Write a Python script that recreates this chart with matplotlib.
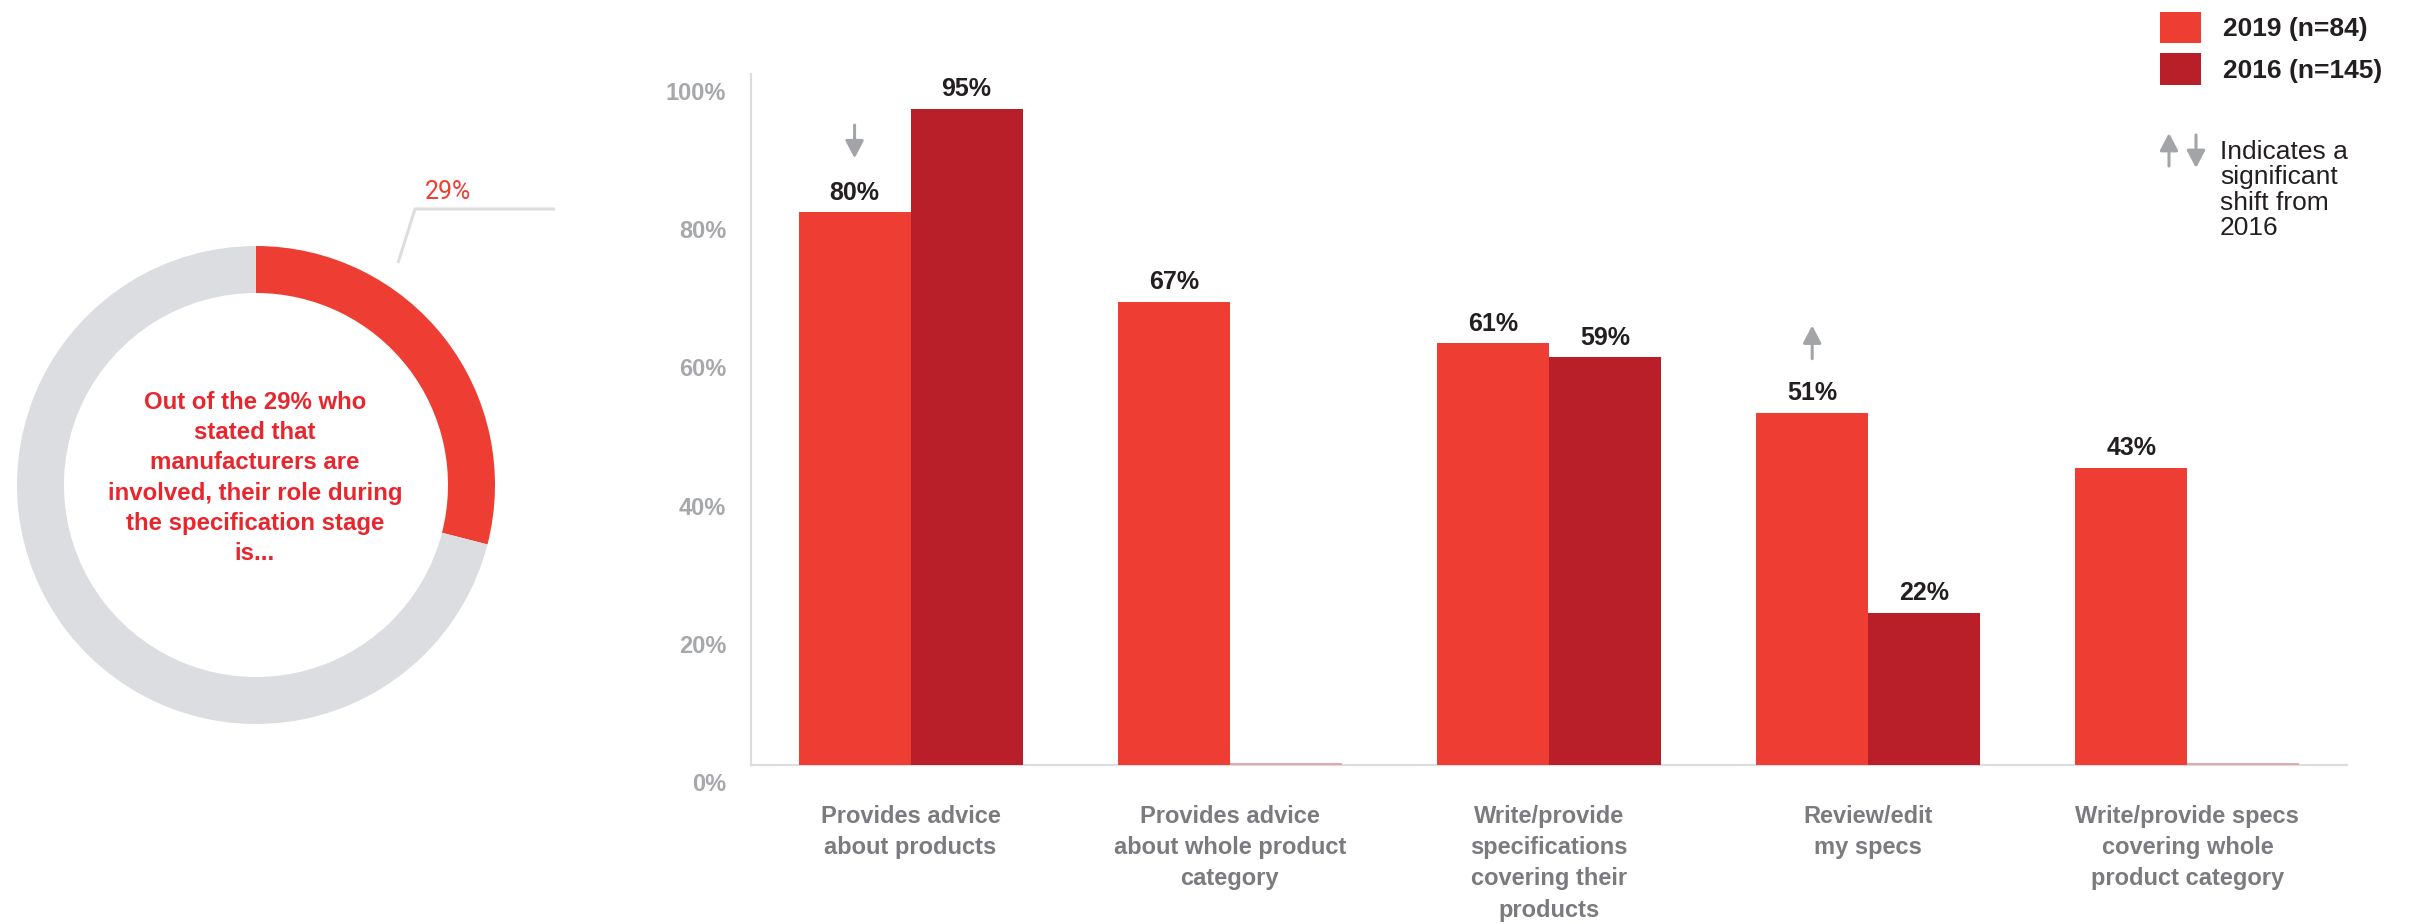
import numpy as np
import matplotlib
matplotlib.use('Agg')
import matplotlib.pyplot as plt
import matplotlib.transforms as mtransforms
from matplotlib.patches import Patch, FancyArrowPatch

# ── data ──────────────────────────────────────────────────────────────────────
categories = [
    'Provides advice\nabout products',
    'Provides advice\nabout whole product\ncategory',
    'Write/provide\nspecifications\ncovering their\nproducts',
    'Review/edit\nmy specs',
    'Write/provide specs\ncovering whole\nproduct category',
]
vals_2019 = [80, 67, 61, 51, 43]
vals_2016 = [95, 0, 59, 22, 0]
shift = [-1, 0, 0, 1, 0]          # significant shift vs 2016: -1 down, +1 up
series_labels = ['2019 (n=84)', '2016 (n=145)']
yticks = [0, 20, 40, 60, 80, 100]
donut_share = [29, 71]            # manufacturers involved / not involved

RED = '#ee3d33'
DARK_RED = '#b91f28'
RING_GRAY = '#dcdde0'
TICK_GRAY = '#a7a8ab'
LABEL_GRAY = '#7a7b7f'
ARROW_GRAY = '#a3a4a8'
INK = '#231f20'
TEXT_RED = '#e8262d'

plt.rcParams['font.family'] = ['Liberation Sans', 'DejaVu Sans']

W, H = 2419, 924
fig = plt.figure(figsize=(W / 100, H / 100), dpi=100)

# ── donut ─────────────────────────────────────────────────────────────────────
axd = fig.add_axes([0, 0, 600 / W, 1])
axd.pie(donut_share, colors=[RED, RING_GRAY], startangle=90, counterclock=False,
        radius=239, center=(256, H - 485),
        wedgeprops=dict(width=47, linewidth=0))
axd.set_xlim(0, 600)
axd.set_ylim(0, H)
axd.set_aspect('equal')
axd.axis('off')

# leader line + callout
axd.plot([398, 415, 555], [H - 263, H - 209, H - 209], color=RING_GRAY,
         lw=2.2, solid_capstyle='butt')
axd.text(448, H - 192, f'{donut_share[0]}%', color=RED, fontsize=18,
         family=['Roboto', 'Liberation Sans'], fontweight='normal',
         ha='center', va='center')

axd.text(255, H - 478,
         f'Out of the {donut_share[0]}% who\nstated that\nmanufacturers are\n'
         'involved, their role during\nthe specification stage\nis...',
         color=TEXT_RED, fontsize=17.3, fontweight='bold',
         ha='center', va='center', linespacing=1.39)

# ── grouped bars ──────────────────────────────────────────────────────────────
ax = fig.add_axes([751 / W, (H - 765) / H, (2347 - 751) / W, (765 - 74) / H])
x = np.arange(len(categories))
bw = 0.351
off = bw / 2

ax.bar(x - off, vals_2019, bw, color=RED, linewidth=0, zorder=3,
       label=series_labels[0])
ax.bar(x + off, vals_2016, bw, color=DARK_RED, linewidth=0, zorder=3,
       label=series_labels[1])

# no 2016 figure for these categories: thin stub on the baseline
for xi, v in zip(x, vals_2016):
    if v == 0:
        ax.hlines(0.15, xi, xi + bw, color='#e39aa0', lw=1.2, zorder=4)

for xi, v in zip(x, vals_2019):
    ax.annotate(f'{v}%', (xi - off, v), xytext=(0, 5.5), textcoords='offset points',
                ha='center', va='bottom', fontsize=18, fontweight='bold',
                color=INK, annotation_clip=False)
for xi, v in zip(x, vals_2016):
    if v > 0:
        ax.annotate(f'{v}%', (xi + off, v), xytext=(0, 5.5),
                    textcoords='offset points', ha='center', va='bottom',
                    fontsize=18, fontweight='bold', color=INK,
                    annotation_clip=False)

arrow_kw = dict(arrowstyle='-|>,head_length=1.05,head_width=0.55',
                color=ARROW_GRAY, lw=2.2, shrinkA=0, shrinkB=0,
                mutation_scale=10)
for xi, v, s in zip(x, vals_2019, shift):
    if s == 0:
        continue
    near, far = v + 7.8, v + 12.6
    tail, tip = (far, near) if s < 0 else (near, far)
    ax.annotate('', xy=(xi - off, tip), xytext=(xi - off, tail),
                arrowprops=arrow_kw, annotation_clip=False)

ax.set_xlim(-0.5, 4.5)
ax.set_ylim(0, 100)
ax.set_xticks(x, categories)
ax.set_yticks(yticks, [f'{t}%' for t in yticks])
ax.tick_params(axis='x', length=0, pad=29, labelsize=17, labelcolor=LABEL_GRAY)
ax.tick_params(axis='y', length=0, pad=18, labelsize=17, labelcolor=TICK_GRAY)
for lab in ax.get_xticklabels():
    lab.set_fontweight('bold')
    lab.set_linespacing(1.45)
shift_down = mtransforms.ScaledTranslation(0, -0.17, fig.dpi_scale_trans)
for lab in ax.get_yticklabels():
    lab.set_fontweight('bold')
    lab.set_transform(lab.get_transform() + shift_down)

for side in ('top', 'right'):
    ax.spines[side].set_visible(False)
for side in ('left', 'bottom'):
    ax.spines[side].set_color(RING_GRAY)
    ax.spines[side].set_linewidth(1.6)

# ── legend ────────────────────────────────────────────────────────────────────
handles = [Patch(facecolor=RED, linewidth=0), Patch(facecolor=DARK_RED, linewidth=0)]
fig.legend(handles, series_labels, loc='upper left',
           bbox_to_anchor=(2160 / W, 1 - 12 / H), frameon=False,
           borderpad=0, borderaxespad=0, handlelength=1.55, handleheight=1.45,
           handletextpad=0.85, labelspacing=0.38,
           prop=dict(size=19, weight='bold'), labelcolor=INK)

for xa, y0, y1 in [(2169, 166, 133), (2196, 135, 168)]:
    fig.add_artist(FancyArrowPatch(
        (xa / W, 1 - y0 / H), (xa / W, 1 - y1 / H),
        transform=fig.transFigure, **arrow_kw))
fig.text(2220 / W, 1 - 140 / H, 'Indicates a\nsignificant\nshift from\n2016',
         fontsize=19, color=INK, ha='left', va='top', linespacing=1.07)

fig.savefig('out.png', dpi=100, facecolor='white')
